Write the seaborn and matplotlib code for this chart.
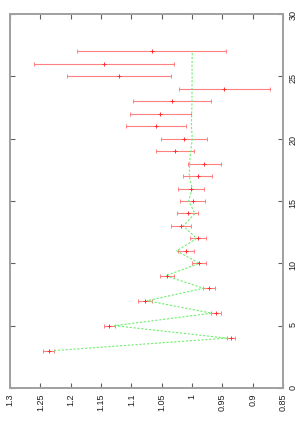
import matplotlib.pyplot as plt
import seaborn as sns

# index on the (vertical) axis, measured ratio with error, and model curve
n = list(range(3, 28))
measured = [1.236, 0.935, 1.136, 0.960, 1.0775, 0.972, 1.041, 0.9885, 1.0095, 0.9897,
            1.018, 1.007, 0.999, 1.002, 0.9907, 0.980, 1.0276, 1.013, 1.059, 1.052,
            1.033, 0.947, 1.120, 1.145, 1.0665]
errors = [0.0088, 0.0066, 0.0088, 0.0082, 0.011, 0.0099, 0.012, 0.011, 0.0135, 0.0135,
          0.016, 0.0176, 0.0206, 0.021, 0.024, 0.027, 0.031, 0.038, 0.049, 0.051,
          0.065, 0.075, 0.086, 0.115, 0.123]
model = [1.2275, 0.943, 1.1275, 0.9676, 1.074, 0.981, 1.0434, 0.988, 1.0253, 0.9923,
         1.0144, 0.9951, 1.0055, 0.9996, 1.0045, 1.004, 1.002, 0.9995, 1.001, 1.0005,
         1.0, 1.0, 0.9998, 1.0, 0.9995]

val_ticks = [1.3, 1.25, 1.2, 1.15, 1.1, 1.05, 1.0, 0.95, 0.9, 0.85]
val_labels = ["1.3", "1.25", "1.2", "1.15", "1.1", "1.05", "1", "0.95", "0.9", "0.85"]
n_ticks = [0, 5, 10, 15, 20, 25, 30]

sns.set_style("white")
plt.rcParams['font.family'] = ['Liberation Sans', 'DejaVu Sans']

fig = plt.figure(figsize=(3.0, 4.28), dpi=100)
ax = fig.add_axes([10 / 300, 40 / 428, 273 / 300, 374 / 428])

ax.errorbar(measured, n, xerr=errors, fmt='+', color='#ff3030', ecolor='#ff8080',
            elinewidth=0.8, capsize=1.5, capthick=0.8, markersize=3, mew=0.7)
sns.lineplot(x=model, y=n, orient='y', estimator=None, color='#70ee70', lw=0.8,
             linestyle=(0, (2, 1.5)), ax=ax)

ax.set_xlim(1.3, 0.85)
ax.set_ylim(0, 30)
ax.set_xticks(val_ticks)
ax.set_xticklabels(val_labels, rotation=90)
ax.set_yticks(n_ticks)
ax.set_yticklabels([str(t) for t in n_ticks], rotation=90)
ax.yaxis.tick_right()
ax.tick_params(direction='in', length=3.5, width=0.8, color='#606060',
               top=True, bottom=True, left=True, right=True,
               labelsize=6.5, labelcolor='#202020', pad=4)
ax.tick_params(axis='y', labelleft=False, labelright=True)
ax.tick_params(axis='y', which='major', pad=4)
for s in ax.spines.values():
    s.set_color('#a0a0a0')
    s.set_linewidth(1.4)
ax.set_xlabel("")
ax.set_ylabel("")

plt.savefig("out.png", dpi=100)
plt.close()
